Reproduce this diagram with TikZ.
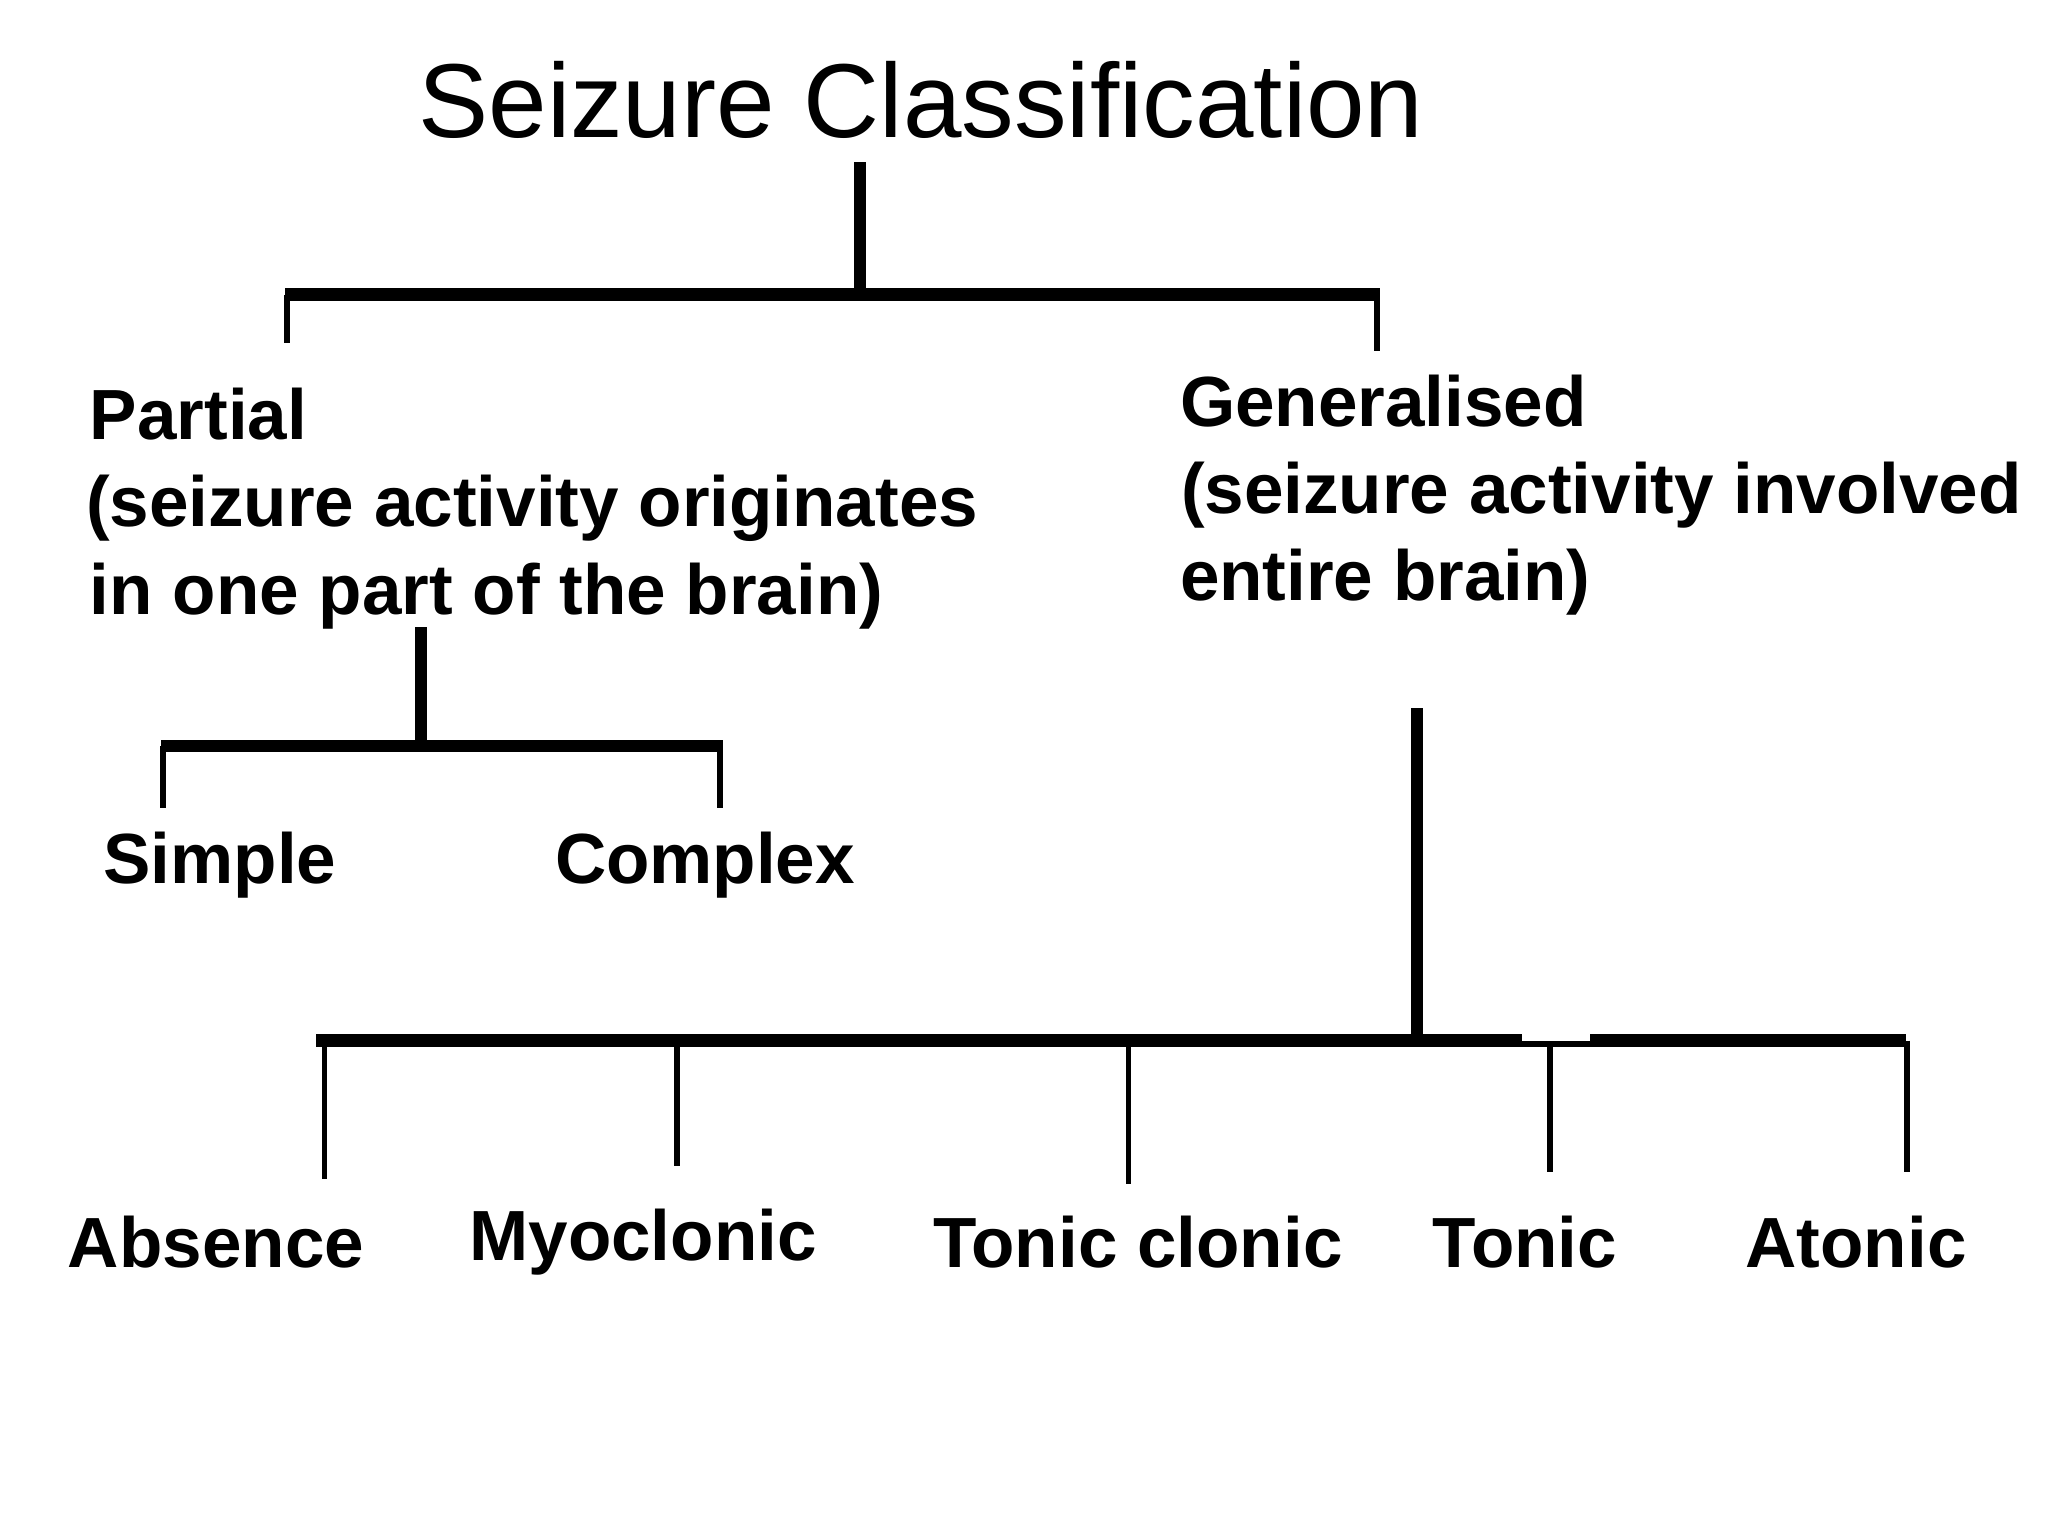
\documentclass[tikz,border=0pt]{standalone}
\usepackage{fontspec}
\setmainfont{Liberation Sans}
\begin{document}
\begin{tikzpicture}[x=0.01cm,y=-0.01cm,
  lbl/.style={inner sep=0pt,outer sep=0pt,font=\fontsize{20.2pt}{24pt}\selectfont\bfseries},
  ttl/.style={inner sep=0pt,outer sep=0pt,font=\fontsize{29.9pt}{36pt}\selectfont},
  stem/.style={line width=3.3pt},
  barline/.style={line width=3.5pt},
  notchline/.style={line width=1.7pt},
  thinline/.style={line width=1.62pt}]
\useasboundingbox[fill=white] (0,0) rectangle (2048,1536);

% texts
\node[ttl,anchor=base] (title) at (921,137) {Seizure Classification};
\node[lbl,anchor=base west] (partial1) at (90,439) {Partial};
\node[lbl,anchor=base west] (partial2) at (86,526) {(seizure activity originates};
\node[lbl,anchor=base west] (partial3) at (90,614) {in one part of the brain)};
\node[lbl,anchor=base west] (gen1) at (1180,426) {Generalised};
\node[lbl,anchor=base west] (gen2) at (1181,513) {(seizure activity involved};
\node[lbl,anchor=base west] (gen3) at (1180,600) {entire brain)};
\node[lbl,anchor=base] (simple) at (220,883) {Simple};
\node[lbl,anchor=base] (complex) at (705,883) {Complex};
\node[lbl,anchor=base] (absence) at (216,1267) {Absence};
\node[lbl,anchor=base] (myoclonic) at (643,1260) {Myoclonic};
\node[lbl,anchor=base] (tonicclonic) at (1138,1267) {Tonic clonic};
\node[lbl,anchor=base] (tonic) at (1525,1267) {Tonic};
\node[lbl,anchor=base] (atonic) at (1856,1267) {Atonic};

% top bracket
\coordinate (tstem) at (860,162);
\coordinate (tj) at (860,294.5);
\coordinate (tbl) at (285,294.5);
\coordinate (tbr) at (1380,294.5);
\coordinate (tl) at (287,294.5);
\coordinate (tr) at (1377,294.5);
\draw[stem] (tstem) -- (tj);
\draw[barline] (tbl) -- (tbr);
\draw[thinline] (tl) -- ++(0,48.5);
\draw[thinline] (tr) -- ++(0,56.5);

% partial bracket
\coordinate (pstem) at (421,627);
\coordinate (pj) at (421,746);
\coordinate (pbl) at (161,746);
\coordinate (pbr) at (723,746);
\coordinate (pl) at (163,746);
\coordinate (pr) at (720,746);
\draw[stem] (pstem) -- (pj);
\draw[barline] (pbl) -- (pbr);
\draw[thinline] (pl) -- ++(0,62);
\draw[thinline] (pr) -- ++(0,62);

% generalised bracket
\coordinate (gstem) at (1417,708);
\coordinate (gj) at (1417,1040.5);
\coordinate (gbl) at (316,1040.5);
\coordinate (gn1) at (1522,1040.5);
\coordinate (gn2) at (1590,1040.5);
\coordinate (gbr) at (1906,1040.5);
\draw[stem] (gstem) -- (gj);
\draw[barline] (gbl) -- (gn1);
\draw[notchline] ([yshift=-0.9pt]gn1) -- ([yshift=-0.9pt]gn2);
\draw[barline] (gn2) -- (gbr);
\coordinate (d1) at (324.6,1040.5);
\coordinate (d2) at (677,1040.5);
\coordinate (d3) at (1128.5,1040.5);
\coordinate (d4) at (1550,1047);
\coordinate (d5) at (1907,1040.5);
\draw[thinline] (d1) -- ++(0,138.5);
\draw[thinline] (d2) -- ++(0,125.5);
\draw[thinline] (d3) -- ++(0,143.5);
\draw[thinline] (d4) -- ++(0,125);
\draw[thinline] (d5) -- ++(0,131.5);
\end{tikzpicture}
\end{document}
